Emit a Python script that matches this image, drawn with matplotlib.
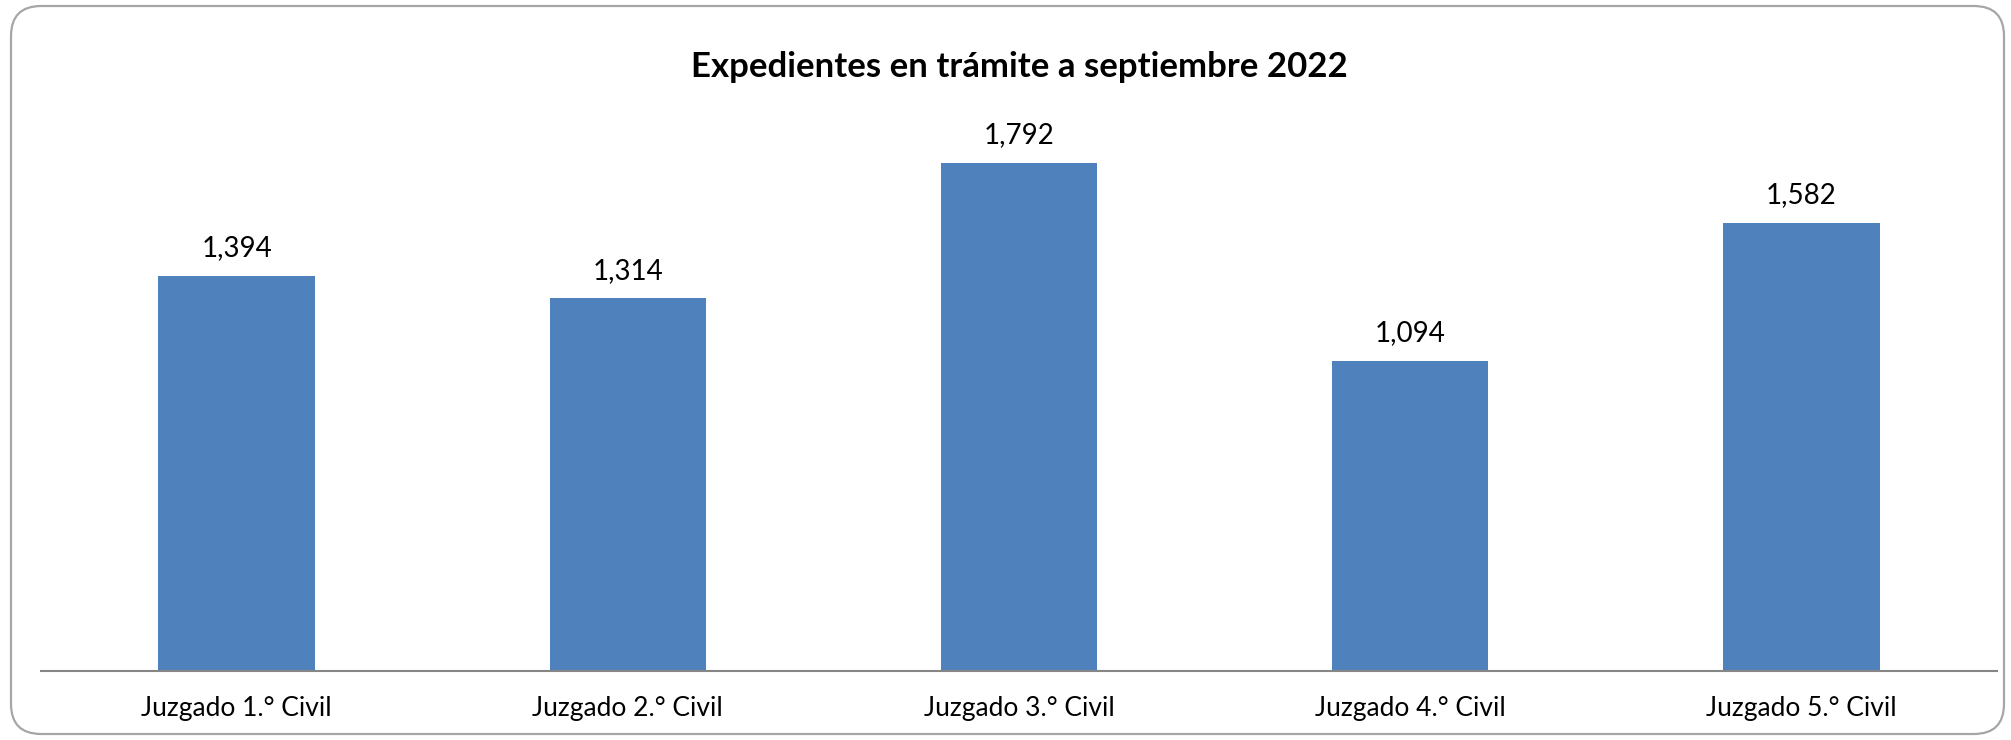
import matplotlib
matplotlib.use("Agg")
import matplotlib.pyplot as plt
from matplotlib.patches import FancyBboxPatch

categories = ["Juzgado 1.° Civil", "Juzgado 2.° Civil", "Juzgado 3.° Civil",
              "Juzgado 4.° Civil", "Juzgado 5.° Civil"]
values = [1394, 1314, 1792, 1094, 1582]
title = "Expedientes en trámite a septiembre 2022"

plt.rcParams['font.family'] = ['Lato', 'DejaVu Sans']

W, H = 2011, 740
fig = plt.figure(figsize=(W / 100, H / 100), dpi=100)
fig.patch.set_facecolor("white")

# rounded border
border = FancyBboxPatch((11 / W, 6 / H), (2004 - 11) / W, (734 - 6) / H,
                        boxstyle="round,pad=0,rounding_size=0.015",
                        transform=fig.transFigure, facecolor="none",
                        edgecolor="#a6a6a6", linewidth=1.6,
                        mutation_aspect=W / H, zorder=10)
fig.patches.append(border)

ax = fig.add_axes([41 / W, 1 - 671 / H, (1997 - 41) / W, (671 - 104) / H])
ax.set_facecolor("none")
x = list(range(len(categories)))
bars = ax.bar(x, values, width=0.4, color="#4F81BD")
ax.set_xlim(-0.5, len(categories) - 0.5)
ax.set_ylim(0, 2000)
ax.set_xticks(x)
ax.set_xticklabels(categories, fontsize=19, va="center")
ax.tick_params(axis="x", length=0, pad=27)
ax.set_yticks([])
for s in ["top", "right", "left"]:
    ax.spines[s].set_visible(False)
ax.spines["bottom"].set_color("#868686")
ax.spines["bottom"].set_linewidth(1.5)

for xi, v in zip(x, values):
    ax.annotate(f"{v:,}", (xi, v), xytext=(0, 20), textcoords="offset points",
                ha="center", va="center", fontsize=20)

fig.text((41 + 1997) / 2 / W, 1 - 67 / H, title, ha="center", va="center",
         fontsize=25, fontweight="bold")

fig.savefig("out.png", dpi=100)
